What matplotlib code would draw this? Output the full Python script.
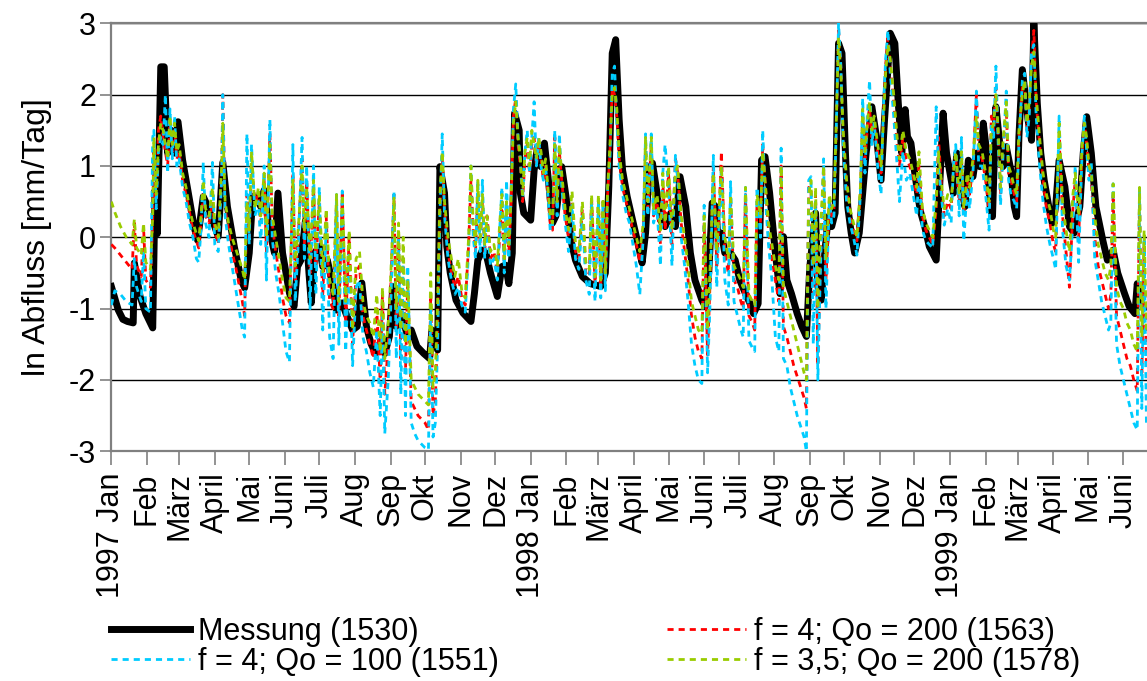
"""Daily log runoff 1997-1999: measurement vs. three model runs."""

import matplotlib

matplotlib.use("Agg")
import matplotlib.pyplot as plt  # noqa: E402
import numpy as np  # noqa: E402

plt.rcParams["font.family"] = ["Liberation Sans", "DejaVu Sans"]
plt.rcParams["axes.unicode_minus"] = False

START = np.datetime64("1997-01-01")
MONTHS = ["Jan", "Feb", "März", "April", "Mai", "Juni",
          "Juli", "Aug", "Sep", "Okt", "Nov", "Dez"]

# measured ln runoff; x = days since 1997-01-01
meas_days = [
    0, 6, 10, 14, 19, 20, 25, 30, 36, 38, 40, 43, 46, 49, 52, 55, 58, 62, 67, 72,
    75, 80, 84, 90, 93, 97, 101, 107, 113, 116, 120, 123, 127, 130, 133, 137, 142,
    145, 149, 155, 159, 162, 165, 169, 172, 174, 177, 181, 184, 188, 193, 196, 201,
    204, 210, 214, 218, 222, 226, 230, 235, 238, 242, 245, 248, 254, 257, 261, 266,
    272, 277, 279, 284, 286, 290, 292, 295, 300, 306, 313, 316, 319, 323, 326, 330,
    336, 340, 343, 346, 349, 351, 355, 356, 359, 365, 368, 371, 374, 377, 381, 384,
    387, 392, 397, 400, 404, 410, 417, 426, 430, 433, 436, 439, 442, 445, 449, 455,
    459, 462, 465, 468, 471, 475, 478, 482, 487, 491, 495, 500, 504, 508, 514, 517,
    520, 523, 526, 528, 531, 534, 539, 543, 547, 552, 556, 559, 563, 566, 569, 573,
    578, 582, 585, 588, 592, 597, 601, 605, 608, 613, 615, 618, 621, 624, 627, 630,
    633, 636, 639, 641, 644, 647, 651, 654, 657, 662, 666, 670, 673, 678, 682, 685,
    688, 691, 693, 696, 699, 704, 708, 712, 718, 721, 724, 727, 730, 733, 736, 740,
    743, 746, 750, 753, 756, 759, 762, 765, 767, 770, 773, 776, 779, 783, 786, 788,
    790, 793, 798, 801, 803, 806, 809, 812, 816, 819, 822, 825, 830, 834, 838, 843,
    846, 849, 853, 857, 863, 867, 872, 876, 882, 886, 891, 893, 896, 901,
]
meas_vals = [
    -0.69, -1.02, -1.15, -1.18, -1.2, -0.36, -0.83, -1.07, -1.27, 0.66, 0.05, 2.39,
    2.39, 1.18, 1.5, 1.18, 1.62, 1.08, 0.62, 0.15, -0.04, 0.57, 0.43, 0.15, 0.01,
    1.05, 0.43, -0.13, -0.6, -0.71, -0.22, 0.57, 0.55, 0.43, 0.66, 0.15, -0.22, 0.62,
    -0.22, -0.78, -0.97, -0.41, -0.32, 0.24, -0.5, -0.92, -0.22, -0.13, -0.41, -0.32,
    -0.69, -1.02, -0.92, -1.06, -1.3, -1.25, -0.64, -1.25, -1.49, -1.63, -1.44,
    -1.63, -1.39, -0.69, -1.25, -1.16, -1.34, -1.3, -1.53, -1.63, -1.7, -1.3, -1.58,
    0.99, 0.62, -0.13, -0.5, -0.88, -1.06, -1.18, -0.79, -0.32, -0.18, -0.22, -0.5,
    -0.83, -0.41, -0.39, -0.65, -0.22, 1.74, 1.5, 0.62, 0.34, 0.24, 0.94, 1.27, 0.99,
    1.32, 0.71, 0.2, 0.3, 0.99, 0.43, -0.04, -0.32, -0.55, -0.65, -0.69, -0.5, 0.71,
    2.58, 2.77, 1.65, 0.94, 0.57, 0.15, -0.13, -0.36, 0.06, 0.94, 1.04, 0.62, 0.24,
    0.15, 0.34, 0.15, 0.85, 0.43, -0.22, -0.6, -0.88, -0.97, -0.5, 0.48, 0.43, 0.01,
    0.06, -0.22, -0.22, -0.32, -0.6, -0.79, -0.93, -1.07, -0.93, 1.08, 1.13, 0.62,
    -0.22, -0.79, 0.01, -0.6, -0.79, -1.07, -1.25, -1.39, -0.41, 0.34, -0.69, -0.88,
    -0.22, 0.29, 0.15, 0.34, 2.72, 2.58, 1.18, 0.43, 0.06, -0.22, 0.06, 0.62, 1.18,
    1.83, 1.41, 0.8, 1.64, 2.86, 2.72, 1.88, 1.18, 1.79, 1.41, 1.32, 0.94, 0.38, 0.15,
    -0.13, -0.32, 0.71, 1.74, 1.18, 0.9, 0.62, 1.18, 0.71, 0.43, 1.08, 0.85, 1.18,
    0.99, 1.6, 1.18, 0.43, 0.29, 1.83, 1.36, 0.99, 1.27, 0.94, 0.43, 0.29, 1.41, 2.35,
    1.64, 1.36, 3.0, 1.88, 1.18, 0.8, 0.43, 0.2, 0.43, 1.08, 0.71, 0.15, 0.06, 0.43,
    1.18, 1.69, 1.18, 0.43, -0.04, -0.32, -0.18, -0.5, -0.79, -0.97, -1.07, -0.65,
    -0.93, -0.97,
]

# model runs share one set of output days
sim_days = [
    0, 3, 8, 13, 18, 20, 22, 26, 28, 30, 34, 36,
    37, 39, 41, 43, 45, 47, 49, 51, 53, 55, 57, 59, 62, 65, 68, 71, 74, 76,
    78, 80, 82, 85, 88, 90, 93, 96, 97, 99, 102, 105, 108, 111, 114, 116, 118, 120,
    122, 125,
    128, 130, 133, 135, 138, 140, 143, 146, 149, 152, 155, 158, 160, 163, 166, 168,
    170, 173, 176, 178, 181, 184, 187, 190, 193, 196, 198, 201, 204, 207, 210, 213,
    216, 219, 222, 225, 228, 231, 234, 236, 238, 241, 243, 246, 248, 250, 252, 254,
    256, 258, 261, 264, 267, 270, 273, 276, 278, 280, 282, 284, 286, 288,
    290, 293, 296, 299, 302, 305, 308, 311, 313, 315, 317, 319, 321, 323, 325, 327,
    330, 333, 336, 338, 340, 342, 344, 346, 348, 350, 352, 354,
    356, 358, 360, 362, 364, 366, 368, 370, 372, 374, 376, 378, 380, 382, 384, 386,
    388, 390, 392, 395, 398, 401, 404, 407, 410, 413, 416, 418, 421, 424, 426, 428,
    430, 432,
    434, 436, 438, 440, 442, 445, 448, 451, 454, 457, 460, 463, 465, 467, 470, 472,
    475, 478, 480, 482, 485, 488, 491, 493, 496, 499, 502, 505, 508, 511, 514, 516,
    519, 521, 524, 527, 529, 531, 534, 537, 539, 542, 545, 548, 550, 552, 555, 558,
    560, 562, 565, 567, 569, 572, 575, 578, 581, 583, 585, 588, 591, 594, 597, 600,
    603, 605, 607, 609, 611, 613, 615, 617, 620, 622, 625, 627, 629, 631, 633, 635,
    637, 640, 643, 646, 649, 652, 654, 656, 658, 660, 662, 664, 667, 670, 672, 674,
    676, 678, 681, 684, 686, 689, 692, 695, 698, 701, 703, 706, 709, 712, 715, 718,
    720, 723, 725, 728, 731, 733, 735, 738, 740, 742, 745, 747, 750, 753, 755, 758,
    761, 764, 766, 768, 770,
    772, 774, 776, 779, 781, 783, 786, 788, 790, 793, 795, 797, 799, 801, 803, 805,
    808, 811, 814, 817, 820, 822, 825, 828, 831, 834, 837, 839, 842, 845, 847, 849,
    851, 853, 856, 859, 862, 865, 868, 870, 872, 875, 878, 881, 884, 887, 890, 893,
    895, 897, 899, 901,
]
# f = 4; Qo = 200
sim_red = [
    -0.1, -0.15, -0.25, -0.35, -0.45, 0.2, -0.4, -0.55, 0.15, -0.6, -0.7, 0.25,
    1.2, 0.5, 1.5, 1.7, 1.4, 1.2, 1.0, 1.6, 1.2, 1.5, 1.1, 1.2, 0.8, 0.6, 0.35, 0.1,
    -0.05, -0.15,
    0.2, 0.6, 0.3, 0.2, 0.5, 0.1, -0.1, 0.9, 2.0, 0.4, 0.1, -0.2, -0.4, -0.65, -0.9,
    -1.1, 0.6, 0.0, 1.0, 0.5,
    0.6, 0.2, 0.8, -0.2, 1.45, 0.2, -0.2, -0.5, -0.85, -1.1, -1.2, 0.9, -0.6, 0.1,
    1.1, -0.1, 0.8, -0.5, 0.7, -0.4, 0.5, -0.8, 0.3, -0.9, -1.0, 0.5, -1.1, 0.6,
    -1.2, 0.0, -1.5, -0.5,
    -0.4, -1.1, -1.3, -1.5, -1.7, -1.0, -2.0, -0.8, -2.2, -1.5, -0.8, 0.6, -1.3, 0.1,
    -1.7, -0.3, -1.9, -0.6, -2.3, -2.4, -2.5, -2.55, -2.6, -2.7, -0.8, -2.5, -2.3,
    -1.2, 0.4, 1.1,
    0.4, -0.2, -0.5, -0.7, -0.55, -0.85, -0.95, -0.1, 0.8, 0.1, -0.2, 0.6, -0.1, 0.5,
    -0.2, 0.3, -0.3, -0.2, -0.5, 0.0, 0.5, -0.4, 0.4, -0.2, 0.5, 1.7, 1.95, 1.3,
    1.0, 0.5, 1.1, 1.3, 0.9, 1.3, 1.4, 1.0, 1.3, 1.1, 0.8, 1.0, 0.6, 0.2, 0.1, 1.4,
    0.4, 1.2, 0.8, 0.3, 0.0, 0.5, -0.2, -0.3, 0.4, -0.5, -0.55, 0.55, -0.65, 0.5,
    -0.7, 0.5, -0.6, 0.6,
    1.2, 2.1, 2.0, 1.7, 1.1, 0.7, 0.5, 0.3, 0.1, -0.1, -0.35, 0.1, 1.3, 0.4, 1.3,
    0.3, 0.5, -0.1, 0.8, 0.1, 0.9, -0.1, 1.1, 0.9, 0.2, -0.2, -0.6, -1.1, -1.4, -1.6,
    -1.7, 0.2,
    -1.65, -0.7, 1.0, -0.4, 0.3, 1.2, -0.2, -0.5, 0.5, -0.6, -0.7, -0.9, -1.0, 0.6,
    -1.1, -1.2, -1.3, 0.5, 0.2, 1.3, 0.8, 0.1, -0.3, -0.6, -0.9, 1.0, -1.25, -1.4,
    -1.6, -1.8, -1.95, -2.1, -2.25, -2.4, 0.7, 0.7, -0.8, 0.6, -1.8, -0.4, 1.0, -0.6,
    0.5, 0.3, 0.4, 1.5, 2.9, 2.4,
    1.4, 0.7, 0.3, 0.1, -0.05, 0.6, 1.7, 1.1, 1.5, 1.8, 1.4, 1.6, 1.2, 0.9, 1.7, 2.4,
    2.8, 2.4, 1.9, 1.3, 1.0, 1.4, 1.1, 1.0, 0.8, 0.6, 1.0, 0.3, 0.1, 0.0, -0.1, 0.4,
    1.4, 0.6, 0.3, 0.5, 0.4, 1.0, 1.1, 0.5, 1.1, 0.3, 0.8, 0.6, 1.0, 2.0, 1.2, 1.1,
    0.8, 0.4, 1.7, 1.5, 2.1,
    1.4, 0.6, 1.2, 1.8, 0.9, 0.8, 0.6, 0.5, 1.4, 2.1, 2.1, 1.5, 1.8, 2.5, 2.9, 1.9,
    1.3, 0.8, 0.4, 0.2, -0.1, -0.2, 1.4, 0.3, -0.2, -0.7, 0.4, 0.8, 0.0, 1.2, 1.6,
    1.3, 0.9, 0.8, 0.0, -0.4, -0.6, -0.8, -1.0, -0.8, 0.6, -1.1, -1.3, -1.5, -1.7,
    -1.8, -2.0, -2.15, 0.6, -1.9, -0.1, -1.8,
]
# f = 4; Qo = 100
sim_cyan = [
    -0.95, -0.75, -0.8, -0.9, -0.95, -0.3, -0.7, -0.9, -0.2, -1.0, -1.05, 1.4,
    1.5, 0.4, 1.2, 1.4, 1.3, 2.0, 0.9, 1.8, 1.1, 1.7, 1.0, 1.1, 0.7, 0.5, 0.2, 0.0,
    -0.3, -0.35,
    0.1, 1.05, 0.2, 0.0, 1.05, -0.1, -0.2, 0.8, 2.0, 0.3, -0.1, -0.4, -0.7, -1.0,
    -1.3, -1.4, 1.45, -0.1, 1.3, 0.3,
    0.5, -0.1, 1.0, -0.6, 1.65, 0.0, -0.5, -0.8, -1.2, -1.6, -1.75, 1.3, -0.9, 0.0,
    1.4, -0.3, 1.0, -1.0, 1.0, -0.8, 0.7, -1.3, 0.2, -1.4, -1.7, 0.6, -1.5, 0.65,
    -1.6, -0.2, -1.8, -0.7,
    -0.6, -1.4, -1.6, -1.9, -2.1, -1.3, -2.5, -1.1, -2.75, -2.0, -1.1, 0.65, -1.7,
    0.0, -2.2, -0.3, -2.5, -0.4, -2.6, -2.75, -2.85, -2.9, -2.95, -2.98, -1.0, -2.8,
    -2.6, -1.5, 0.3, 1.45,
    0.3, -0.3, -0.6, -0.8, -0.7, -0.95, -1.05, -0.2, 1.0, 0.0, -0.3, 0.8, -0.2, 0.8,
    -0.3, 0.2, -0.4, -0.3, -0.6, 0.1, 0.7, -0.5, 0.8, -0.3, 0.6, 1.8, 2.15, 1.4,
    1.1, 0.55, 1.2, 1.5, 0.9, 1.4, 1.9, 1.0, 1.4, 1.0, 0.8, 1.0, 0.6, 0.1, 0.15, 1.5,
    0.3, 1.45, 0.7, 0.2, -0.2, 0.45, -0.3, -0.45, 0.3, -0.6, -0.8, 0.5, -0.9, 0.5,
    -0.85, 0.5, -0.75, 0.7,
    1.1, 2.3, 2.4, 1.6, 1.0, 0.6, 0.35, 0.2, -0.1, -0.4, -0.8, 0.0, 1.45, 0.3, 1.45,
    0.2, 0.4, -0.4, 0.9, 1.3, 0.7, -0.4, 1.15, 0.8, 0.0, -0.4, -0.9, -1.5, -1.8,
    -2.0, -2.05, 0.45,
    -1.9, -1.0, 1.15, -0.7, 0.2, 1.0, -0.6, -0.95, 0.78, -0.9, -1.1, -1.3, -1.4, 0.7,
    -1.45, -1.55, -1.6, 0.7, 0.0, 1.5, 0.6, -0.1, -0.6, -1.4, -1.6, 1.25, -1.7,
    -1.8, -2.1, -2.3, -2.5, -2.65, -2.8, -3.0, 0.8, 0.85, -1.5, 0.5, -2.0, -0.6,
    1.1, -1.0, 0.5, 0.2, 0.3, 1.5, 3.0, 2.4,
    1.3, 0.5, 0.2, 0.0, -0.25, 0.6, 1.95, 0.9, 1.7, 2.2, 1.3, 1.6, 1.0, 0.6, 1.8,
    2.5, 2.9, 2.3, 1.7, 1.0, 0.5, 1.2, 0.8, 0.9, 0.6, 0.3, 0.9, 0.1, -0.05, -0.1,
    -0.15, 1.83, 1.0, 0.5, 0.17, 0.4, 0.2, 1.0, 1.3, 0.3, 1.4, -0.05, 0.7, 0.4, 0.9,
    2.05, 1.0, 1.0, 0.6, 0.1, 1.6, 1.4, 2.4,
    1.3, 0.45, 1.1, 2.05, 0.8, 0.6, 0.5, 0.4, 1.3, 2.2, 2.3, 1.4, 1.7, 2.6, 2.7, 1.7,
    1.0, 0.5, 0.15, -0.1, -0.3, -0.45, 1.7, 0.1, -0.4, -0.6, 0.2, 1.0, -0.35, 1.2,
    1.7, 1.2, 0.8, 1.05, -0.3, -0.6, -0.9, -1.1, -1.3, -1.2, 0.75, -1.5, -1.8, -2.0,
    -2.2, -2.4, -2.6, -2.7, 0.7, -2.4, 0.0, -2.6,
]
# f = 3,5; Qo = 200
sim_green = [
    0.5, 0.35, 0.15, 0.0, -0.1, 0.25, -0.15, -0.25, 0.2, -0.35, -0.45, 0.3,
    1.4, 0.6, 1.3, 1.6, 1.5, 1.3, 1.1, 1.7, 1.3, 1.6, 1.2, 1.3, 0.9, 0.7, 0.4, 0.2,
    0.05, -0.05,
    0.3, 0.8, 0.4, 0.3, 0.7, 0.2, 0.0, 1.0, 1.6, 0.5, 0.2, 0.0, -0.15, -0.3, -0.45,
    -0.6, 0.5, 0.1, 1.2, 0.4,
    0.7, 0.3, 0.9, 0.0, 1.3, 0.3, 0.0, -0.3, -0.6, -0.85, -0.9, 0.8, -0.4, 0.2, 1.0,
    0.1, 0.7, -0.3, 0.8, -0.2, 0.6, -0.5, 0.4, -0.6, -0.8, 0.6, -0.9, 0.6, -0.9, 0.1,
    -1.3, -0.3,
    -0.2, -0.9, -1.1, -1.2, -1.4, -0.8, -1.6, -0.7, -1.7, -1.2, -0.6, 0.55, -1.0,
    0.2, -1.3, 0.0, -1.5, -0.6, -2.0, -2.1, -2.2, -2.25, -2.3, -2.35, -0.5, -2.1,
    -1.9, -0.9, 0.6, 1.2,
    0.5, 0.0, -0.3, -0.55, -0.3, -0.75, -0.85, 0.0, 1.0, 0.2, -0.1, 0.8, 0.0, 0.6,
    -0.1, 0.3, -0.2, -0.1, -0.4, 0.2, 0.6, -0.3, 0.5, -0.1, 0.6, 1.6, 1.9, 1.4,
    1.1, 0.6, 1.2, 1.4, 1.0, 1.5, 1.3, 1.1, 1.4, 1.2, 0.9, 1.1, 0.7, 0.3, 0.2, 1.3,
    0.5, 1.3, 0.9, 0.4, 0.1, 0.65, -0.1, -0.2, 0.5, -0.35, -0.45, 0.6, -0.55, 0.6,
    -0.6, 0.55, -0.5, 0.7,
    1.3, 2.0, 2.1, 1.8, 1.2, 0.8, 0.6, 0.4, 0.2, 0.0, -0.2, 0.2, 1.4, 0.5, 1.4, 0.4,
    0.6, 0.1, 0.9, 0.2, 1.0, 0.1, 0.9, 1.0, 0.3, 0.0, -0.4, -0.9, -1.1, -1.3, -1.35,
    0.3,
    -1.3, -0.5, 0.9, -0.2, 0.4, 1.0, 0.0, -0.3, 0.6, -0.4, -0.5, -0.6, -0.7, 0.7,
    -0.8, -0.9, -0.95, 0.6, 0.3, 1.2, 0.8, 0.2, -0.1, -0.4, -0.6, 1.0, -0.7, -0.9,
    -1.1, -1.3, -1.5, -1.7, -1.9, -2.0, 0.6, 0.8, -0.4, 0.7, -1.0, 0.0, 1.0, -0.3,
    0.6, 0.4, 0.5, 1.6, 2.8, 2.3,
    1.5, 0.8, 0.4, 0.2, 0.0, 0.7, 1.8, 1.2, 1.6, 1.9, 1.5, 1.7, 1.3, 1.0, 1.6, 2.3,
    2.7, 2.5, 2.0, 1.4, 1.1, 1.5, 1.2, 1.1, 0.9, 0.7, 1.2, 0.4, 0.2, 0.1, 0.0, 0.5,
    1.2, 0.7, 0.4, 0.6, 0.5, 0.9, 1.2, 0.6, 1.2, 0.4, 0.9, 0.7, 1.1, 1.7, 1.3, 1.2,
    0.9, 0.5, 1.5, 1.6, 2.0,
    1.5, 0.7, 1.3, 1.9, 1.0, 0.9, 0.7, 0.6, 1.5, 2.0, 2.2, 1.6, 1.9, 2.4, 2.6, 2.0,
    1.4, 0.9, 0.6, 0.4, 0.1, 0.0, 1.6, 0.5, 0.1, -0.2, 0.6, 0.9, 0.3, 1.3, 1.6, 1.4,
    1.0, 0.9, 0.3, -0.1, -0.3, -0.5, -0.6, -0.4, 0.75, -0.7, -0.9, -1.0, -1.2, -1.3,
    -1.5, -1.6, 0.7, -1.4, 0.1, -1.3,
]

X_END = 901.5  # axis is cut off shortly after mid-June 1999


def month_ticks():
    months = np.arange("1997-01", "1999-07", dtype="datetime64[M]")
    pos = (months.astype("datetime64[D]") - START).astype(int)
    labels = []
    for m in months.astype(int):
        name = MONTHS[m % 12]
        labels.append(f"{1970 + m // 12} {name}" if m % 12 == 0 else name)
    return pos, labels


def main():
    fig = plt.figure(figsize=(11.47, 6.81), dpi=100)
    ax = fig.add_axes([0.0971, 0.3373, 0.9029, 0.6285])

    dash = dict(linewidth=2.0, linestyle=(0, (2.2, 1.8)))
    ax.plot(meas_days, meas_vals, color="black", linewidth=5, zorder=3,
            solid_joinstyle="round", label="Messung (1530)")
    ax.plot(sim_days, sim_red, color="#ff0000", zorder=4, **dash,
            label="f = 4; Qo = 200 (1563)")
    ax.plot(sim_days, sim_cyan, color="#00ccff", zorder=5, **dash,
            label="f = 4; Qo = 100 (1551)")
    ax.plot(sim_days, sim_green, color="#99cc00", zorder=6, **dash,
            label="f = 3,5; Qo = 200 (1578)")

    ax.set_xlim(0, X_END)
    ax.set_ylim(-3, 3)
    ax.set_yticks(range(-3, 4))
    ax.yaxis.grid(True, color="black", linewidth=1.0)
    ax.set_axisbelow(True)

    pos, labels = month_ticks()
    ax.set_xticks(pos)
    ax.set_xticklabels(labels, rotation=90, fontsize=22)
    ax.tick_params(axis="x", direction="out", length=10, width=1.2,
                   color="#808080", pad=5)
    ax.tick_params(axis="y", direction="out", length=8, width=1.2,
                   color="#808080", labelsize=22, pad=3)
    for side in ("top", "bottom", "left"):
        ax.spines[side].set_color("#808080")
        ax.spines[side].set_linewidth(1.6)
    ax.spines["right"].set_visible(False)

    ax.set_ylabel("ln Abfluss [mm/Tag]", fontsize=23, labelpad=12)

    handles, names = ax.get_legend_handles_labels()
    order = [0, 2, 1, 3]
    fig.legend([handles[i] for i in order], [names[i] for i in order],
               loc="upper left", bbox_to_anchor=(111 / 1147, 1 - 617 / 681),
               ncol=2, frameon=False, fontsize=22, borderpad=0,
               borderaxespad=0, handlelength=2.6, handletextpad=0.25,
               labelspacing=0.0, columnspacing=5.5)

    fig.savefig("out.png", dpi=100)
    return 0


if __name__ == "__main__":
    raise SystemExit(main())
